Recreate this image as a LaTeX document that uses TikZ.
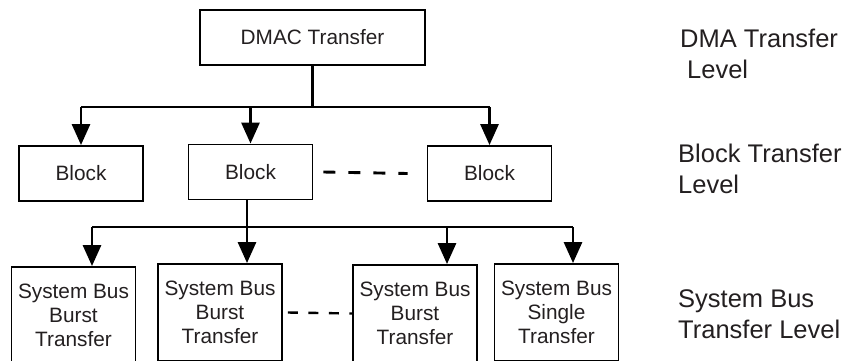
\documentclass[tikz,border=0pt]{standalone}
\usepackage{fontspec}
\setmainfont{Liberation Sans}
\usepackage{tikz}
\usetikzlibrary{arrows.meta}
\definecolor{ink}{RGB}{35,31,32}

\begin{document}
\begin{tikzpicture}[
  x=1pt, y=-1pt,
  box/.style={draw, line width=1.9pt, text=ink, align=center, inner sep=0pt,
    minimum width=124pt, minimum height=55pt, font=\fontsize{20.8}{24}\selectfont},
  busbox/.style={box, minimum height=97pt},
  lvl/.style={anchor=base west, align=left, inner sep=0pt, text=ink,
    font=\fontsize{25.5}{31}\selectfont},
  line/.style={line width=2.9pt},
  arr/.style={line, -{Triangle[length=21pt,width=18pt]}},
  gap/.style={line, dash pattern=on 12pt off 13pt}
]
  \useasboundingbox (0,0) rectangle (845,360);

  % levels
  \node[box, minimum width=225pt] (dmac) at (312.5,37.5) {DMAC Transfer};
  \node[box] (blkA) at (81,173.5) {Block};
  \node[box] (blkB) at (250.5,172) {Block};
  \node[box] (blkC) at (489.5,173.5) {Block};
  \node[busbox] (busA) at (73.5,315.5) {System Bus\\Burst\\Transfer};
  \node[busbox] (busB) at (220,312.5) {System Bus\\Burst\\Transfer};
  \node[busbox] (busC) at (415,313.5) {System Bus\\Burst\\Transfer};
  \node[busbox] (busD) at (556.5,312.5) {System Bus\\Single\\Transfer};

  % base of the last line
  \node[lvl] (lvlDMA) at (680,78) {DMA Transfer\\\hspace*{7pt}Level};
  \node[lvl] (lvlBlk) at (678,193) {Block Transfer\\Level};
  \node[lvl] (lvlBus) at (678,338) {System Bus\\Transfer Level};

  % bars
  \coordinate (tbar) at (0,107);
  \coordinate (dropA) at (92,227);
  \coordinate (dropB) at (247,227);
  \coordinate (dropC) at (447,227);
  \coordinate (dropD) at (573,227);

  \draw[line] (dmac.south) -- (dmac.south |- tbar);
  \draw[line] (blkA.north |- tbar) -- (blkC.north |- tbar);
  \foreach \b in {blkA,blkB,blkC}
    \draw[arr] (\b.north |- tbar) -- (\b.north);

  \draw[line] (blkB.south -| dropB) -- (dropB);
  \draw[line] (dropA) -- (dropD);
  \draw[arr] (dropA) -- (dropA |- busA.north);
  \draw[arr] (dropB) -- (dropB |- busB.north);
  \draw[arr] (dropC) -- (dropC |- busC.north);
  \draw[arr] (dropD) -- (dropD |- busD.north);

  % more of the same
  \draw[gap] ([xshift=10pt]blkB.east) -- ([xshift=-19pt]blkC.west);
  \draw[gap, line width=2.4pt, dash pattern=on 10pt off 10.5pt]
    ([xshift=5pt]busB.east) -- (busC.west);
\end{tikzpicture}
\end{document}
